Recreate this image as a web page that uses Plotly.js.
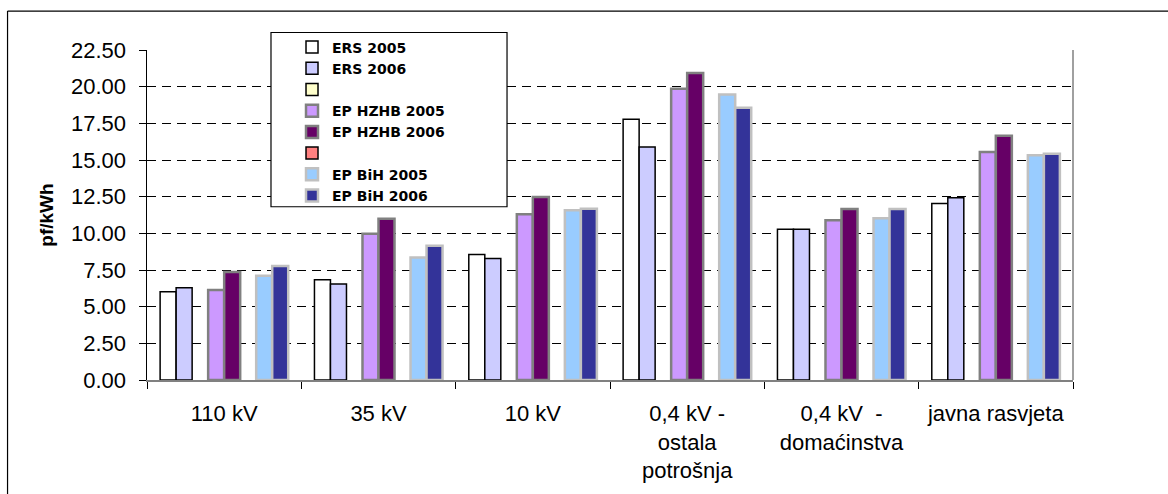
<!DOCTYPE html>
<html>
<head>
<meta charset="utf-8">
<script src="https://cdn.plot.ly/plotly-3.0.1.min.js"></script>
<style>html,body{margin:0;padding:0;background:#fff;}#chart{width:1168px;height:494px;}</style>
</head>
<body>
<div id="chart"></div>
<script>
var categories = ["110 kV", "35 kV", "10 kV", "0,4 kV -<br>ostala<br>potrošnja", "0,4 kV  -<br>domaćinstva", "javna rasvjeta"];
var ers2005   = [6.01, 6.83, 8.55, 17.77, 10.28, 12.03];
var ers2006   = [6.29, 6.54, 8.28, 15.88, 10.28, 12.43];
var emptyA    = [null, null, null, null, null, null];
var hzhb2005  = [6.13, 9.98, 11.30, 19.86, 10.89, 15.54];
var hzhb2006  = [7.37, 11.00, 12.48, 20.94, 11.66, 16.65];
var emptyB    = [null, null, null, null, null, null];
var bih2005   = [7.10, 8.35, 11.57, 19.47, 11.03, 15.32];
var bih2006   = [7.78, 9.15, 11.68, 18.56, 11.66, 15.43];
var yTicks    = [0, 2.5, 5, 7.5, 10, 12.5, 15, 17.5, 20, 22.5];

function bar(name, y, fill, lineColor, lineWidth) {
  return {type: 'bar', name: name, x: categories, y: y,
          marker: {color: fill, line: {color: lineColor, width: lineWidth}},
          hoverinfo: 'y'};
}
var data = [
  bar('ERS 2005', ers2005, '#FFFFFF', '#000000', 1.5),
  bar('ERS 2006', ers2006, '#CCCCFF', '#000000', 1.5),
  bar(' ', emptyA, '#FFFFCC', '#000000', 1.5),
  bar('EP HZHB 2005', hzhb2005, '#CC99FF', '#808080', 2.5),
  bar('EP HZHB 2006', hzhb2006, '#660066', '#808080', 2.5),
  bar(' ', emptyB, '#FF8080', '#000000', 1.5),
  bar('EP BiH 2005', bih2005, '#99CCFF', '#C0C0C0', 2.5),
  bar('EP BiH 2006', bih2006, '#333399', '#C0C0C0', 2.5)
];

var layout = {
  width: 1168, height: 494,
  margin: {l: 147, r: 95, t: 50, b: 114, pad: 0},
  paper_bgcolor: '#FFFFFF', plot_bgcolor: '#FFFFFF',
  font: {family: '"Liberation Sans", Arial, sans-serif', color: '#000000', size: 22},
  barmode: 'group', bargap: 0.17, bargroupgap: 0,
  showlegend: true,
  legend: {x: 0.1566, y: 1.056, xanchor: 'left', yanchor: 'top',
           bgcolor: 'rgba(0,0,0,0)', borderwidth: 0, tracegroupgap: 0,
           font: {family: '"DejaVu Sans", "Liberation Sans", Arial, sans-serif', size: 14, color: '#000000', weight: 'bold'}},
  xaxis: {type: 'category', showgrid: false, showline: true, linecolor: '#808080', linewidth: 1.5,
          ticks: 'outside', tickson: 'boundaries', ticklen: 7, tickcolor: '#000000', tickwidth: 1,
          tickfont: {size: 22}, ticklabelstandoff: 13, zeroline: false, fixedrange: true},
  yaxis: {range: [0, 22.5], tickvals: yTicks, tickformat: '.2f',
          showgrid: true, gridcolor: '#000000', griddash: '9px,6px', gridwidth: 1,
          showline: true, linecolor: '#000000', linewidth: 1.5,
          ticks: 'outside', ticklen: 7, tickcolor: '#000000', tickwidth: 1,
          tickfont: {size: 22}, ticklabelstandoff: 8, zeroline: false, fixedrange: true,
          title: {text: '<b>pf/kWh</b>', font: {size: 19}, standoff: 12}},
  shapes: [
    {type: 'rect', xref: 'paper', yref: 'paper', x0: 0.1339, x1: 0.3888, y0: 0.525, y1: 1.053,
     fillcolor: '#FFFFFF', line: {color: '#000000', width: 1.2}, layer: 'above'},
    {type: 'line', xref: 'paper', yref: 'paper', x0: 1, x1: 1, y0: 0, y1: 1,
     line: {color: '#808080', width: 1.5}},
    {type: 'line', xref: 'paper', yref: 'paper', x0: -0.1506, x1: -0.1506, y0: -0.5, y1: 1.118,
     line: {color: '#000000', width: 1.2}},
    {type: 'line', xref: 'paper', yref: 'paper', x0: -0.1506, x1: 1.2, y0: 1.118, y1: 1.118,
     line: {color: '#000000', width: 1.2}}
  ]
};

Plotly.newPlot('chart', data, layout, {displayModeBar: false, staticPlot: true});
</script>
</body>
</html>
